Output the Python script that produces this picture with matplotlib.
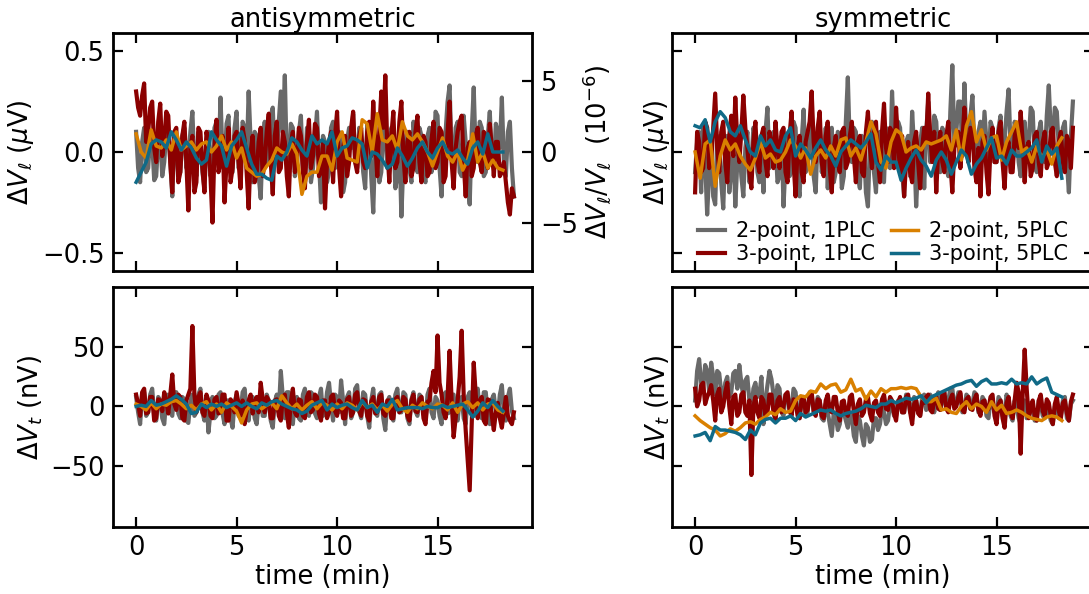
import numpy as np
import matplotlib
matplotlib.use("Agg")
import matplotlib.pyplot as plt

# sampling steps (min) of the two integration settings
STEP_1PLC = 0.1
STEP_5PLC = 0.25

# ---------------- antisymmetric, longitudinal (uV) ----------------
anti_l_2p_1plc = [
    0.10, -0.08, -0.15, 0.05, 0.12, -0.10, -0.08, 0.08, 0.05, -0.14,
    -0.12, 0.06, 0.08, -0.12, -0.05, 0.10, 0.10, -0.05, -0.22, 0.04,
    0.06, -0.12, -0.10, 0.08, 0.12, -0.08, -0.04, 0.10, 0.20, -0.06,
    -0.12, 0.10, 0.05, -0.10, -0.18, 0.06, 0.10, -0.12, -0.06, 0.12,
    0.15, -0.05, 0.27, -0.02, -0.08, 0.14, 0.18, -0.10, -0.10, 0.12,
    0.20, -0.08, -0.05, 0.15, 0.12, -0.04, 0.30, 0.05, -0.15, 0.10,
    0.08, -0.12, -0.23, 0.06, 0.15, -0.06, -0.05, 0.18, 0.22, -0.04,
    0.00, 0.15, 0.30, 0.10, 0.38, -0.05, -0.10, 0.14, 0.12, -0.12,
    -0.06, 0.10, 0.18, -0.08, -0.12, 0.12, 0.10, -0.15, -0.08, 0.06,
    0.20, -0.05, -0.25, 0.08, 0.05, -0.15, -0.10, 0.12, 0.15, -0.08,
    -0.05, 0.10, 0.08, -0.20, -0.15, 0.06, 0.12, 0.02, 0.19, -0.05,
    -0.08, 0.12, 0.05, -0.10, -0.18, 0.14, 0.10, -0.12, -0.30, 0.05,
    0.06, -0.15, -0.10, 0.10, 0.14, -0.08, -0.05, 0.12, 0.10, -0.18,
    -0.12, 0.05, -0.32, -0.05, 0.05, 0.10, -0.08, -0.15, 0.15, 0.05,
    -0.10, 0.12, 0.08, -0.12, -0.15, 0.08, 0.12, -0.10, -0.05, 0.20,
    0.18, -0.08, -0.22, 0.05, 0.10, 0.25, 0.33, -0.02, -0.08, 0.12,
    0.15, -0.10, -0.12, 0.18, 0.05, -0.15, -0.26, 0.10, 0.32, -0.02,
    -0.05, 0.15, 0.12, -0.12, -0.10, 0.08, 0.20, -0.05, -0.08, 0.14,
    0.10, 0.02, 0.27, -0.05, -0.12, 0.10, 0.15, -0.08, -0.22,
]
anti_l_3p_1plc = [
    0.30, 0.22, 0.18, 0.28, 0.34, 0.05, 0.10, 0.22, 0.25, 0.02,
    -0.05, 0.15, 0.24, -0.02, 0.05, 0.20, 0.18, -0.05, -0.20, 0.10,
    0.12, -0.15, -0.10, 0.08, 0.15, -0.05, -0.29, 0.02, 0.08, -0.20,
    -0.15, 0.12, 0.10, -0.08, -0.20, 0.10, 0.05, -0.12, -0.35, 0.02,
    0.16, -0.10, -0.05, 0.08, -0.25, -0.05, 0.12, -0.15, -0.08, 0.08,
    0.10, -0.05, -0.18, 0.12, 0.06, -0.10, -0.28, 0.00, 0.08, -0.15,
    -0.10, 0.05, 0.12, -0.12, -0.05, 0.10, 0.19, -0.05, -0.21, 0.08,
    0.15, -0.10, -0.08, 0.10, 0.05, -0.12, -0.22, 0.04, 0.10, -0.10,
    -0.05, 0.12, 0.08, -0.10, -0.18, 0.05, 0.16, -0.08, -0.02, 0.14,
    0.12, -0.12, -0.10, 0.05, -0.28, -0.05, 0.05, 0.10, -0.15, 0.08,
    0.20, -0.08, -0.22, 0.02, 0.08, -0.12, -0.05, 0.12, 0.20, -0.05,
    -0.10, 0.08, 0.12, -0.05, -0.08, 0.10, 0.15, -0.02, 0.25, 0.05,
    -0.12, 0.10, 0.30, 0.12, 0.38, 0.02, -0.15, 0.08, 0.20, -0.08,
    -0.05, 0.15, 0.25, -0.02, -0.15, 0.05, 0.10, -0.12, -0.08, 0.10,
    0.18, -0.05, -0.15, 0.08, 0.05, -0.12, -0.10, 0.06, 0.15, -0.08,
    -0.05, 0.12, 0.10, -0.15, -0.12, 0.10, 0.25, -0.05, -0.18, 0.02,
    0.10, 0.15, 0.18, -0.05, -0.22, 0.02, 0.05, -0.12, -0.08, 0.08,
    0.12, -0.05, -0.10, 0.10, 0.08, -0.08, 0.14, 0.02, -0.12, 0.05,
    0.05, -0.12, -0.10, -0.05, -0.15, -0.25, -0.31, -0.18, -0.22,
]
anti_l_2p_5plc = [
    0.09, 0.00, -0.03, 0.11, 0.03, 0.02, 0.06, 0.01, 0.10, 0.01,
    0.03, 0.05, 0.01, 0.04, 0.05, 0.00, 0.03, 0.08, 0.01, 0.05,
    -0.03, 0.02, -0.08, -0.10, -0.12, -0.11, -0.07, -0.04, 0.02, 0.00,
    -0.01, 0.04, -0.01, -0.21, -0.12, -0.10, -0.10, -0.02, -0.02, -0.09,
    0.05, 0.10, -0.03, -0.04, -0.05, 0.16, 0.14, 0.00, 0.19, 0.06,
    0.05, 0.08, 0.01, 0.15, 0.08, 0.06, 0.09, 0.05, 0.00, -0.07,
    0.00, 0.07, -0.02, -0.05, 0.00, -0.09, -0.04, 0.09, -0.05, 0.00,
    -0.08, -0.04, -0.08, -0.09,
]
anti_l_3p_5plc = [
    -0.15, -0.10, -0.05, 0.04, 0.06, 0.05, 0.02, 0.10, 0.06, 0.01,
    0.05, 0.02, -0.03, -0.06, -0.04, 0.10, 0.06, 0.03, -0.07, 0.03,
    0.06, 0.10, 0.02, -0.06, -0.11, -0.11, -0.13, -0.14, -0.02, -0.04,
    0.00, 0.07, 0.05, 0.01, -0.02, 0.08, 0.04, 0.06, 0.04, 0.10,
    -0.02, 0.02, 0.03, 0.07, 0.06, 0.04, -0.08, 0.00, -0.01, -0.04,
    -0.08, -0.06, 0.02, -0.02, -0.07, -0.03, 0.02, 0.05, 0.00, -0.03,
    0.02, 0.05, 0.00, -0.01, 0.01, -0.03, -0.06, 0.02, 0.05, -0.01,
    0.09, 0.00, 0.00, 0.00,
]

# ---------------- symmetric, longitudinal (uV) ----------------
sym_l_2p_1plc = [
    -0.10, 0.05, 0.10, -0.20, 0.12, -0.05, -0.31, -0.10, 0.02, -0.22,
    -0.26, 0.08, 0.05, -0.15, -0.28, 0.02, 0.08, -0.20, -0.10, 0.05,
    -0.27, -0.05, 0.06, -0.12, -0.22, 0.02, 0.10, -0.15, -0.05, 0.12,
    0.08, -0.10, -0.15, 0.05, -0.20, 0.10, 0.22, -0.08, -0.05, 0.10,
    0.05, -0.15, -0.12, 0.08, -0.27, -0.05, 0.08, -0.12, -0.10, 0.15,
    0.12, -0.15, -0.22, 0.05, 0.21, -0.10, -0.08, 0.12, 0.05, -0.12,
    -0.20, 0.08, 0.15, -0.10, -0.05, 0.12, -0.18, 0.05, 0.12, -0.15,
    -0.10, 0.10, 0.08, -0.18, -0.12, 0.15, 0.37, 0.02, -0.05, 0.12,
    0.10, -0.12, -0.18, 0.08, 0.05, -0.20, -0.27, 0.05, 0.15, -0.10,
    -0.20, 0.05, 0.10, -0.12, -0.15, 0.12, 0.05, -0.08, 0.30, 0.05,
    -0.05, 0.15, 0.12, -0.10, -0.22, 0.05, 0.08, -0.12, 0.20, 0.02,
    -0.27, -0.05, 0.05, 0.12, -0.18, 0.10, 0.25, -0.05, 0.02, 0.18,
    0.15, -0.05, -0.10, 0.12, 0.08, -0.08, -0.12, 0.20, 0.43, 0.05,
    0.10, 0.25, 0.25, -0.02, 0.34, 0.08, -0.05, 0.18, 0.28, 0.02,
    -0.12, 0.10, 0.15, -0.02, 0.20, 0.05, -0.10, 0.15, 0.12, -0.05,
    -0.05, 0.12, 0.18, -0.02, 0.05, 0.20, 0.31, 0.02, -0.08, 0.15,
    0.10, -0.05, -0.12, 0.08, 0.15, -0.02, 0.05, 0.22, 0.20, -0.05,
    -0.10, 0.10, 0.15, 0.00, -0.05, 0.18, 0.33, 0.10, 0.05, 0.22,
    0.20, 0.02, -0.10, 0.12, 0.15, -0.05, -0.20, 0.08, 0.25,
]
sym_l_3p_1plc = [
    -0.20, 0.10, 0.05, -0.10, -0.08, 0.15, 0.12, -0.08, -0.05, 0.12,
    0.29, 0.02, -0.10, 0.10, 0.15, -0.05, -0.15, 0.08, 0.18, -0.02,
    0.27, 0.05, -0.05, 0.10, 0.28, 0.12, 0.02, -0.10, -0.18, 0.05,
    0.15, -0.05, -0.10, 0.08, 0.12, -0.05, -0.12, 0.10, 0.05, -0.08,
    0.15, 0.02, -0.08, 0.10, 0.12, -0.10, -0.15, 0.08, 0.20, -0.05,
    -0.22, 0.02, 0.08, -0.10, -0.15, 0.05, 0.10, 0.15, 0.30, 0.05,
    -0.05, 0.12, 0.20, -0.05, -0.12, 0.08, 0.15, -0.08, -0.20, 0.02,
    0.08, -0.05, -0.10, 0.10, 0.12, -0.08, -0.05, 0.08, 0.15, -0.02,
    -0.15, 0.05, 0.08, -0.10, -0.12, 0.10, 0.20, 0.02, -0.08, 0.10,
    0.15, -0.05, -0.15, 0.10, 0.24, 0.02, -0.05, 0.12, 0.10, -0.08,
    0.22, 0.05, -0.10, 0.08, -0.22, -0.05, 0.05, -0.10, -0.15, 0.05,
    0.10, -0.05, -0.18, 0.02, 0.12, 0.05, 0.29, 0.08, -0.05, 0.10,
    -0.20, 0.02, 0.10, -0.05, -0.10, 0.08, 0.15, -0.05, -0.20, 0.02,
    0.05, 0.10, -0.08, 0.05, 0.22, 0.02, -0.05, 0.12, 0.10, -0.08,
    -0.15, 0.02, -0.22, 0.05, 0.08, -0.10, -0.21, 0.02, 0.12, -0.05,
    -0.05, 0.10, 0.15, -0.05, -0.18, 0.02, 0.05, -0.10, -0.10, 0.08,
    0.12, 0.02, 0.20, 0.05, -0.15, 0.02, 0.05, -0.12, -0.08, 0.08,
    0.10, -0.05, -0.12, 0.05, 0.10, -0.08, -0.05, 0.10, 0.12, -0.05,
    -0.12, 0.05, 0.10, -0.05, -0.10, 0.08, 0.05, -0.08, 0.12,
]
sym_l_2p_5plc = [
    0.00, -0.13, 0.04, 0.06, -0.17, -0.02, 0.06, 0.01, 0.04, -0.02,
    -0.06, -0.09, -0.03, 0.05, -0.03, -0.01, -0.05, -0.04, 0.00, 0.06,
    0.03, -0.03, 0.02, -0.11, -0.02, 0.01, -0.03, 0.03, -0.02, 0.06,
    0.07, -0.02, 0.02, -0.04, 0.05, 0.15, 0.09, -0.05, -0.08, 0.05,
    0.11, 0.09, 0.00, 0.02, 0.03, 0.01, 0.05, 0.04, 0.05, 0.06,
    0.08, 0.01, 0.11, -0.04, 0.13, 0.20, 0.05, 0.11, 0.01, 0.07,
    0.08, -0.04, 0.05, 0.10, 0.15, 0.00, 0.02, -0.05, 0.03, -0.03,
    0.01, -0.06, 0.03, 0.07,
]
sym_l_3p_5plc = [
    0.13, 0.12, 0.16, 0.05, 0.15, 0.20, 0.17, 0.10, 0.08, 0.13,
    0.06, 0.00, -0.02, 0.08, 0.03, 0.06, 0.01, 0.00, 0.08, 0.12,
    -0.02, 0.04, 0.01, -0.03, 0.02, 0.06, 0.01, -0.02, -0.07, 0.00,
    0.03, 0.06, 0.04, 0.02, 0.05, 0.09, -0.05, -0.09, -0.02, -0.05,
    -0.05, -0.14, -0.08, -0.03, 0.01, -0.04, -0.07, -0.12, -0.04, 0.00,
    -0.04, -0.11, -0.05, 0.01, -0.02, -0.11, -0.06, -0.03, 0.02, 0.07,
    -0.03, -0.02, -0.06, 0.01, -0.02, -0.02, 0.00, 0.02, 0.06, -0.05,
    0.03, -0.01, 0.02, -0.13,
]

# ---------------- antisymmetric, transverse (nV) ----------------
anti_t_2p_1plc = [
    8, -5, -15, 10, 12, -8, -5, 10, 15, -6,
    -12, 8, 5, -10, -15, 6, 10, -5, -8, 12,
    12, -6, -10, 8, 6, -12, -14, 4, 10, -8,
    -5, 10, 15, -5, -12, 8, -22, -5, 8, -10,
    -8, 10, 12, -6, -15, 5, 5, -10, -18, 4,
    10, -8, -5, 12, 15, -4, -12, 6, 8, -10,
    -15, 5, 12, -8, -8, 10, 5, -12, -18, 4,
    10, -5, 30, 8, -10, 12, 12, -8, -15, 6,
    8, -10, -12, 10, 15, -5, -8, 12, 10, -6,
    -10, 8, 15, -8, -5, 12, 20, 2, -12, 10,
    8, -5, 22, 5, -15, 8, 12, -10, -5, 15,
    18, -4, -10, 12, 10, -8, -18, 5, 15, -5,
    -8, 10, 12, -10, -20, 4, 8, -8, -12, 10,
    15, -5, -5, 12, 10, -10, -15, 6, 12, -4,
    -8, 10, 8, -6, -12, 10, 15, -5, -10, 8,
    5, -8, -15, 8, 12, -6, -5, 10, 10, -8,
    -12, 6, 8, -10, -15, 8, 12, -5, -8, 10,
    15, -5, -10, 12, 12, -8, -15, 6, 10, -5,
    -8, 10, 18, -6, -12, 8, 15, -4, -10,
]
anti_t_3p_1plc = [
    10, 2, -8, 12, 15, -6, -5, 8, 8, -12,
    -10, 6, 5, -4, 12, 5, -6, 10, 27, 2,
    -3, 10, 8, -10, -12, 5, 10, 15, 68, 10,
    -5, 8, 12, -5, -8, 10, 5, -8, -10, 6,
    8, -6, -5, 10, 10, -12, -12, 6, 3, -5,
    12, 2, -8, 5, -15, -4, 5, 10, -6, 4,
    8, -5, 20, 6, -5, 8, 5, -10, -10, 5,
    6, -8, -12, 8, 10, -6, -18, 4, 15, -5,
    -8, 6, 5, -8, -10, 8, 12, -5, -3, 10,
    8, -6, -12, 5, 5, -10, -5, 8, 10, -4,
    -8, 5, 3, -10, -10, 6, 8, -8, -5, 10,
    12, -4, -8, 6, 5, -8, -12, 4, 8, -6,
    -5, 8, 10, -6, -8, 5, 5, -10, -10, 6,
    8, -5, -3, 8, 6, -8, -12, 5, 10, -4,
    -5, 6, 8, -10, -15, 4, 5, 20, 30, 12,
    60, 20, 10, -5, -10, 8, 47, 5, -26, -10,
    5, 25, 64, 10, -20, -45, -71, -15, 37, 10,
    -10, 5, 8, -12, -15, 6, 5, -8, -20, -5,
    3, -10, -18, -5, 8, -8, -12, -15, -5,
]
anti_t_2p_5plc = [
    2, 0, -3, 3, -2, 2, 1, 4, 5, 2,
    -2, 1, -3, 2, 4, -3, 2, -5, 3, 0,
    -4, -14, -3, 2, 3, -2, 1, 3, -2, 9,
    3, -2, 2, -3, 1, 4, -2, 3, 1, -3,
    2, -2, 3, 1, -3, 4, -1, 2, -3, 1,
    -4, 2, 5, -2, -5, 1, -2, 3, 0, -2,
    2, 1, -3, 3, -5, 2, 4, -1, 3, -3,
    2, 3, -3, -5,
]
anti_t_3p_5plc = [
    0, 1, 0, 5, 1, 2, 4, 6, 9, 6,
    2, -6, -5, 2, -1, 2, 0, 2, -1, 1,
    3, 0, 3, 0, -2, 3, 1, 4, 5, 2,
    0, -2, -3, -6, -4, 1, 3, 5, -3, 2,
    -1, 1, 2, -1, -3, 5, -1, 1, -5, 2,
    0, 6, -3, -2, -1, -1, -1, -2, 0, -1,
    -1, 1, -1, 0, 1, 2, -3, -9, -4, 3,
    -1, 5, 0, -4,
]

# ---------------- symmetric, transverse (nV) ----------------
sym_t_2p_1plc = [
    5, 30, 40, 20, 15, 35, 30, 12, 37, 25,
    10, 30, 28, 12, 5, 20, 25, 8, 12, 28,
    30, 15, 35, 20, 8, 22, 25, 5, -5, 15,
    20, 8, 10, 25, -15, 5, 18, 30, 23, 10,
    2, 18, 15, -5, -8, 10, 10, -2, 0, 15,
    12, -5, -10, 8, 5, -8, -5, 12, 10, -5,
    -3, 8, 5, -10, -12, 2, -5, -15, -25, -5,
    -8, -20, -15, 0, -5, -12, -18, -5, -10, -25,
    -30, -8, -12, -25, -33, -15, -18, -30, -28, -10,
    -10, -20, -15, 0, -5, -15, -12, 2, 0, -8,
    -8, 5, 5, -5, -5, 10, 8, -5, -3, 8,
    5, -5, -8, 8, 10, -3, 0, 10, 5, -5,
    8, 12, -3, 5, 12, -2, 5, 15, 15, 0,
    2, 12, 10, -5, -3, 10, 8, -2, 2, 12,
    10, -5, -5, 8, 5, -8, -10, 5, 3, -5,
    -8, 8, 5, -8, -5, 10, 2, -8, -12, 5,
    0, -10, -15, 5, 5, -10, -8, 3, -3, -12,
    -12, 5, 2, -8, -10, 3, -5, -12, -15, 0,
    0, -10, -8, 5, 8, -10, -12, 2, 5,
]
sym_t_3p_1plc = [
    15, 0, 5, 18, 20, 2, 8, 12, 18, 5,
    -12, 10, 15, -5, 0, 12, 20, 0, -15, 8,
    10, -8, -5, 10, 12, -5, -8, 5, -58, 0,
    8, -5, -10, 8, 5, -8, -5, 10, 10, -5,
    -12, 5, 8, -5, 0, 10, 12, -4, -8, 6,
    5, -8, -10, 6, 8, -5, -3, 10, 12, -4,
    -8, 6, 5, -8, -10, 5, 10, -3, -5, 8,
    8, -5, -12, 4, 5, -6, -8, 8, 10, -4,
    -15, 2, 6, -8, -5, 6, 8, -6, -12, 3,
    5, -5, -8, 6, 10, -2, -3, 8, 5, -6,
    -12, 3, 8, -5, -5, 8, 10, -5, -15, 2,
    5, -6, -8, 4, 3, 8, 10, -3, -5, 6,
    8, -2, -3, 10, 12, -2, -5, 6, 10, -2,
    0, 8, 12, -3, -5, 6, 8, -2, -3, 6,
    10, -3, -8, 4, 5, -4, -2, 8, 10, -8,
    -15, 2, 5, -10, -18, 3, 8, -5, -10, 5,
    20, 12, -40, 10, 48, 15, -10, -2, 5, -8,
    -12, 5, 10, -4, -8, 6, 3, -8, -15, 2,
    8, -4, -10, 3, 5, -6, -12, 4, 10,
]
sym_t_2p_5plc = [
    -8, -12, -15, -18, -20, -25, -23, -19, -21, -18,
    -14, -13, -15, -11, -9, -5, -7, -2, -5, -4,
    5, 9, 8, 13, 12, 19, 15, 18, 19, 12,
    14, 23, 13, 15, 6, 13, 8, 15, 12, 15,
    15, 16, 15, 16, 15, 8, 4, 4, 7, -3,
    -2, -5, -6, 0, 4, -2, 2, 0, -5, 4,
    -3, 1, -6, -5, -3, -5, -8, -10, -11, -12,
    -9, -8, -9, -12,
]
sym_t_3p_5plc = [
    -25, -24, -22, -29, -17, -20, -20, -21, -22, -24,
    -28, -20, -24, -14, -11, -10, -14, -10, -10, -8,
    -12, -6, -9, -7, -5, -3, -4, -3, -6, -8,
    -6, -5, -4, -2, 1, 0, -1, 2, 2, 5,
    3, 5, 7, 6, 7, 9, 3, 8, 10, 12,
    14, 16, 18, 19, 21, 22, 17, 21, 23, 19,
    19, 20, 19, 23, 19, 20, 19, 25, 19, 22,
    24, 12, 10, 8,
]

SERIES_LABELS = ["2-point, 1PLC", "3-point, 1PLC", "2-point, 5PLC", "3-point, 5PLC"]
SERIES_COLORS = ["#696969", "#8b0000", "#d98000", "#106a87"]
SERIES_WIDTHS = [3.0, 3.0, 2.5, 2.5]

FONT = 18.5
W, H = 1089, 594


def times(values, step):
    return np.arange(len(values)) * step


def draw_panel(ax, series):
    steps = [STEP_1PLC, STEP_1PLC, STEP_5PLC, STEP_5PLC]
    for vals, step, lab, col, lw in zip(series, steps, SERIES_LABELS,
                                        SERIES_COLORS, SERIES_WIDTHS):
        ax.plot(times(vals, step), vals, color=col, lw=lw, label=lab)
    ax.set_xlim(-1.15, 19.7)
    ax.set_xticks([0, 5, 10, 15])
    ax.tick_params(direction="in", length=7, width=1.6, top=True, right=True,
                   labelsize=FONT, pad=6)
    for sp in ax.spines.values():
        sp.set_linewidth(2.0)


def box(x0, y0, x1, y1):
    return [x0 / W, 1 - y1 / H, (x1 - x0) / W, (y1 - y0) / H]


def main():
    plt.rcParams["font.family"] = "DejaVu Sans"
    plt.rcParams["mathtext.fontset"] = "dejavusans"
    fig = plt.figure(figsize=(W / 100, H / 100), dpi=100)

    # right-hand panels run slightly past the figure edge, as in the original crop
    ax_al = fig.add_axes(box(113, 33, 532, 271))
    ax_sl = fig.add_axes(box(672, 33, 1094, 271))
    ax_at = fig.add_axes(box(113, 287, 532, 527))
    ax_st = fig.add_axes(box(672, 287, 1094, 527))

    draw_panel(ax_al, [anti_l_2p_1plc, anti_l_3p_1plc, anti_l_2p_5plc, anti_l_3p_5plc])
    draw_panel(ax_sl, [sym_l_2p_1plc, sym_l_3p_1plc, sym_l_2p_5plc, sym_l_3p_5plc])
    draw_panel(ax_at, [anti_t_2p_1plc, anti_t_3p_1plc, anti_t_2p_5plc, anti_t_3p_5plc])
    draw_panel(ax_st, [sym_t_2p_1plc, sym_t_3p_1plc, sym_t_2p_5plc, sym_t_3p_5plc])
    for ax in (ax_sl, ax_st):
        ax.set_xlim(-1.15, 19.85)

    for ax in (ax_al, ax_sl):
        ax.set_ylim(-0.59, 0.59)
        ax.set_yticks([-0.5, 0.0, 0.5])
        ax.tick_params(labelbottom=False)
        ax.set_ylabel(r"$\Delta V_\ell$ ($\mu$V)", fontsize=FONT)
    for ax in (ax_at, ax_st):
        ax.set_ylim(-102, 101)
        ax.set_yticks([-50, 0, 50])
        ax.set_xlabel("time (min)", fontsize=FONT, labelpad=2)
        ax.set_ylabel(r"$\Delta V_t$ (nV)", fontsize=FONT)
    for ax in (ax_sl, ax_st):
        ax.tick_params(labelleft=False)
        ax.yaxis.labelpad = 0

    # relative scale on the right of the antisymmetric panel
    ax_al.tick_params(right=False)
    twin = ax_al.twinx()
    twin.set_ylim(-8.35, 8.35)
    twin.set_yticks([-5, 0, 5])
    twin.tick_params(direction="in", length=7, width=1.6, labelsize=FONT, pad=6)
    twin.set_ylabel(r"$\Delta V_\ell/V_\ell$  $(10^{-6})$", fontsize=FONT, labelpad=2)

    ax_al.set_title("antisymmetric", fontsize=FONT, pad=4)
    ax_sl.set_title("symmetric", fontsize=FONT, pad=4)

    ax_sl.legend(loc="lower center", bbox_to_anchor=(0.5, -0.05), ncol=2,
                 frameon=False, fontsize=15, handlelength=1.3,
                 handletextpad=0.5, columnspacing=0.8, labelspacing=0.15)

    fig.savefig("out.png", dpi=100)


if __name__ == "__main__":
    main()
